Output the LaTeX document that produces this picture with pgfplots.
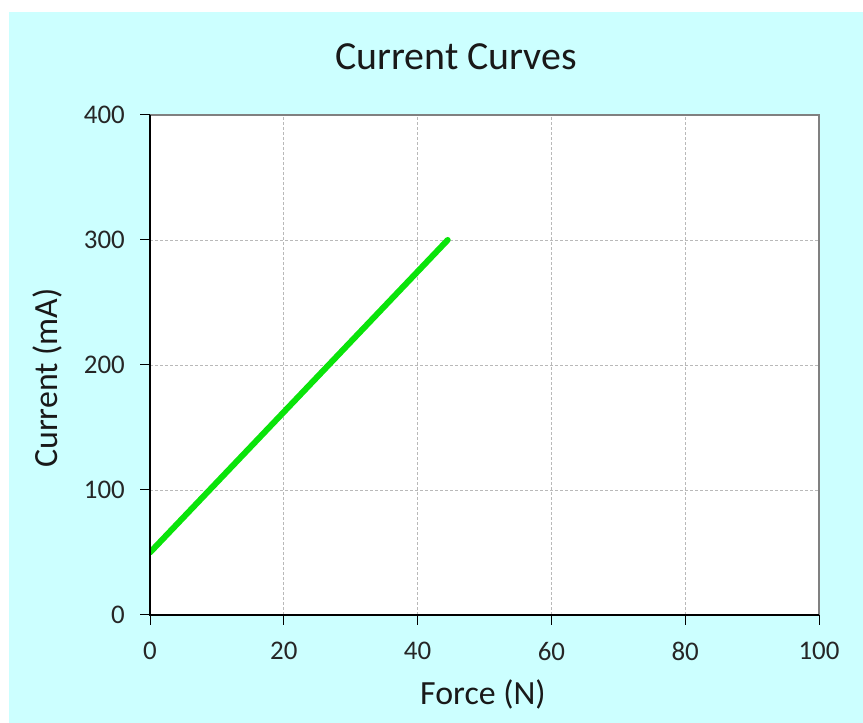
\documentclass[border=0pt]{standalone}
\usepackage{fontspec}
\setmainfont{Carlito}
\usepackage{pgfplots}
\pgfplotsset{compat=1.18}
\definecolor{bgcyan}{RGB}{204,255,255}
\definecolor{linegreen}{RGB}{10,228,10}
\definecolor{gridgray}{RGB}{185,185,185}
\begin{document}
\begin{tikzpicture}[x=1bp,y=1bp]
\fill[white] (0,0) rectangle (863,723);
\fill[bgcyan] (9,0) rectangle (863,711);
\begin{axis}[
  at={(150bp,108bp)}, anchor=south west,
  scale only axis, width=669bp, height=500bp,
  xmin=0, xmax=100, ymin=0, ymax=400,
  xtick={0,20,...,100}, ytick={0,100,...,400},
  xtick pos=bottom, ytick pos=left,
  tick align=outside, major tick length=10bp,
  tick style={black, line width=1bp},
  axis line style={draw=none},
  axis background/.style={fill=white},
  grid=major,
  major grid style={gridgray, line width=0.8bp, dash pattern=on 3bp off 2bp},
  ticklabel style={font=\fontsize{27}{30}\selectfont, text=black!85},
  /pgf/number format/assume math mode=true,
  yticklabel style={inner sep=0pt, xshift=-15bp},
  xticklabel style={inner sep=0pt, yshift=-17bp},
  clip mode=individual,
]
\addplot[linegreen, line width=6bp, line cap=round] coordinates {(0,50) (44.5,300)};
\draw[gray, line width=2bp] (rel axis cs:0,1) -- (rel axis cs:1,1) -- (rel axis cs:1,0);
\draw[black, line width=2bp] (rel axis cs:0,1) -- (rel axis cs:0,0) -- (rel axis cs:1,0);
\end{axis}
\node[anchor=base, font=\fontsize{40}{44}\selectfont, text=black!90] at (456,653) {Current Curves};
\node[anchor=base, font=\fontsize{34}{38}\selectfont, text=black!90] at (483,18) {Force (N)};
\node[anchor=base, rotate=90, font=\fontsize{34}{38}\selectfont, text=black!90] at (57,345) {Current (mA)};
\end{tikzpicture}
\end{document}
